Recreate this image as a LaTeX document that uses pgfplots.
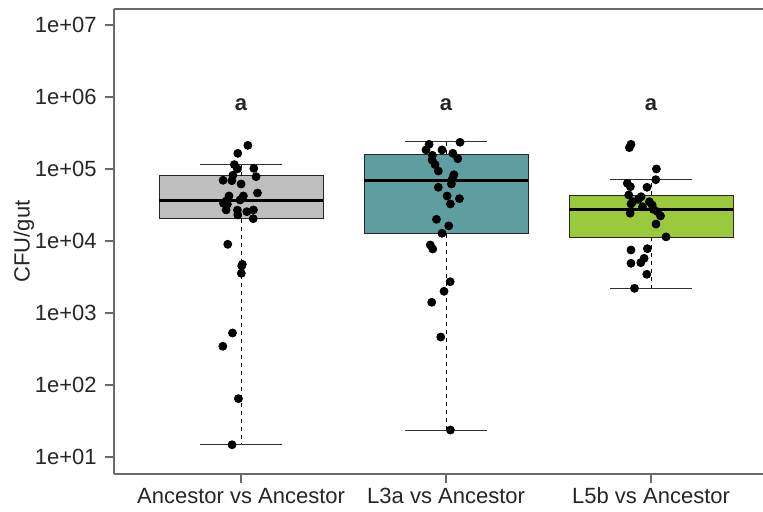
\documentclass[border=0pt]{standalone}
\usepackage{pgfplots}
\pgfplotsset{compat=1.18}
\usepackage{fontspec}
\setmainfont{Liberation Sans}
\definecolor{boxgray}{RGB}{190,190,190}
\definecolor{boxteal}{RGB}{95,158,160}
\definecolor{boxgreen}{RGB}{154,202,60}
\definecolor{framegray}{RGB}{105,105,105}
\begin{document}
\begin{tikzpicture}
\begin{axis}[
  scale only axis,
  width=324.5pt, height=232.5pt,
  ymode=log, log basis y=10,
  xmin=0.38, xmax=3.546,
  ymin=5.81, ymax=1.667e7,
  axis x line*=bottom, axis y line*=left,
  axis line style={-, framegray, line width=0.6pt},
  tick style={framegray, line width=0.6pt},
  tick align=outside, major tick length=4.5pt,
  yminorticks=false, xminorticks=false,
  xtick={1,2,3},
  xticklabels={Ancestor vs Ancestor, L3a vs Ancestor, L5b vs Ancestor},
  ytick={1e1,1e2,1e3,1e4,1e5,1e6,1e7},
  yticklabels={1e+01,1e+02,1e+03,1e+04,1e+05,1e+06,1e+07},
  ticklabel style={font=\fontsize{11}{13}\selectfont, text=black!85},
  yticklabel style={anchor=east, inner sep=0pt, xshift=-4pt},
  xticklabel style={anchor=base, inner sep=0pt, yshift=-10.5pt},
  every axis y label/.style={at={(axis description cs:0,0.5)}, xshift=-45pt, rotate=90, anchor=center, font=\fontsize{11}{13}\selectfont, text=black!85},
  ylabel={CFU/gut},
]
% --- box 1
\addplot[draw=black!85, fill=boxgray, line width=0.5pt] coordinates {(0.6,2.04e4) (1.4,2.04e4) (1.4,8.0e4) (0.6,8.0e4) (0.6,2.04e4)};
\addplot[black, line width=1.5pt] coordinates {(0.6,3.63e4) (1.4,3.63e4)};
\addplot[black, line width=0.5pt, dash pattern=on 2pt off 2pt] coordinates {(1,8.0e4) (1,1.14e5)};
\addplot[black, line width=0.5pt, dash pattern=on 2pt off 2pt] coordinates {(1,2.04e4) (1,14.8)};
\addplot[black!80, line width=0.5pt] coordinates {(0.8,1.14e5) (1.2,1.14e5)};
\addplot[black!80, line width=0.5pt] coordinates {(0.8,14.8) (1.2,14.8)};
% --- box 2
\addplot[draw=black!85, fill=boxteal, line width=0.5pt] coordinates {(1.6,1.26e4) (2.4,1.26e4) (2.4,1.6e5) (1.6,1.6e5) (1.6,1.26e4)};
\addplot[black, line width=1.5pt] coordinates {(1.6,6.97e4) (2.4,6.97e4)};
\addplot[black, line width=0.5pt, dash pattern=on 2pt off 2pt] coordinates {(2,1.6e5) (2,2.37e5)};
\addplot[black, line width=0.5pt, dash pattern=on 2pt off 2pt] coordinates {(2,1.26e4) (2,23.7)};
\addplot[black!80, line width=0.5pt] coordinates {(1.8,2.37e5) (2.2,2.37e5)};
\addplot[black!80, line width=0.5pt] coordinates {(1.8,23.7) (2.2,23.7)};
% --- box 3
\addplot[draw=black!85, fill=boxgreen, line width=0.5pt] coordinates {(2.6,1.12e4) (3.4,1.12e4) (3.4,4.31e4) (2.6,4.31e4) (2.6,1.12e4)};
\addplot[black, line width=1.5pt] coordinates {(2.6,2.78e4) (3.4,2.78e4)};
\addplot[black, line width=0.5pt, dash pattern=on 2pt off 2pt] coordinates {(3,4.31e4) (3,7.26e4)};
\addplot[black, line width=0.5pt, dash pattern=on 2pt off 2pt] coordinates {(3,1.12e4) (3,2.22e3)};
\addplot[black!80, line width=0.5pt] coordinates {(2.8,7.26e4) (3.2,7.26e4)};
\addplot[black!80, line width=0.5pt] coordinates {(2.8,2.22e3) (3.2,2.22e3)};
% --- points group 1
\addplot[only marks, mark=*, mark size=2pt, black] table {
x y
1.033 2.13e5
0.984 1.65e5
0.967 1.15e5
0.982 1.00e5
1.062 1.02e5
0.960 8.18e4
1.073 7.82e4
0.912 6.97e4
0.955 6.88e4
1.000 6.19e4
1.080 4.64e4
0.941 4.22e4
1.011 4.22e4
0.927 3.59e4
0.995 3.71e4
0.914 3.34e4
0.933 3.24e4
0.927 2.70e4
0.982 2.68e4
1.028 2.55e4
1.060 2.70e4
0.984 2.30e4
1.059 2.04e4
0.935 9.0e3
1.006 4.74e3
1.003 4.50e3
1.001 3.56e3
0.958 528
0.911 345
0.987 64.6
0.956 14.8
};
% --- points group 2
\addplot[only marks, mark=*, mark size=2pt, black] table {
x y
2.068 2.35e5
1.917 2.20e5
1.902 1.84e5
1.980 1.84e5
2.033 1.65e5
1.933 1.55e5
2.057 1.39e5
1.932 1.33e5
1.946 1.15e5
1.962 9.38e4
2.038 8.33e4
2.031 7.33e4
2.026 6.19e4
1.962 5.57e4
2.005 4.22e4
2.065 3.87e4
2.021 3.27e4
1.953 2.00e4
2.013 1.62e4
1.980 1.28e4
1.923 8.80e3
1.935 7.74e3
2.020 2.72e3
1.990 2.00e3
1.930 1.41e3
1.974 464
2.021 23.7
};
% --- points group 3
\addplot[only marks, mark=*, mark size=2pt, black] table {
x y
2.902 2.20e5
2.894 1.98e5
3.026 1.00e5
3.023 7.10e4
2.884 6.33e4
2.899 5.68e4
2.980 5.57e4
2.891 4.36e4
2.951 4.12e4
2.938 3.79e4
2.911 3.51e4
2.992 3.51e4
2.902 3.27e4
2.958 2.99e4
3.005 3.16e4
3.011 2.75e4
3.031 2.55e4
2.898 2.43e4
3.046 2.23e4
3.024 1.72e4
3.073 1.14e4
2.902 7.50e3
2.982 7.82e3
2.966 5.75e3
2.950 5.00e3
2.902 4.90e3
2.979 3.45e3
2.919 2.20e3
};
\node[font=\bfseries\fontsize{11}{13}\selectfont, text=black!85] at (axis cs:1,7.74e5) {a};
\node[font=\bfseries\fontsize{11}{13}\selectfont, text=black!85] at (axis cs:2,7.74e5) {a};
\node[font=\bfseries\fontsize{11}{13}\selectfont, text=black!85] at (axis cs:3,7.74e5) {a};
\draw[framegray, line width=0.6pt] (rel axis cs:0,1) -- (rel axis cs:1,1);
\coordinate (sw) at (rel axis cs:0,0);
\coordinate (ne) at (rel axis cs:1,1);
\end{axis}
\pgfresetboundingbox
\path[use as bounding box] ([xshift=-57pt,yshift=-19pt]sw) rectangle ([yshift=4.5pt]ne);
\end{tikzpicture}
\end{document}
